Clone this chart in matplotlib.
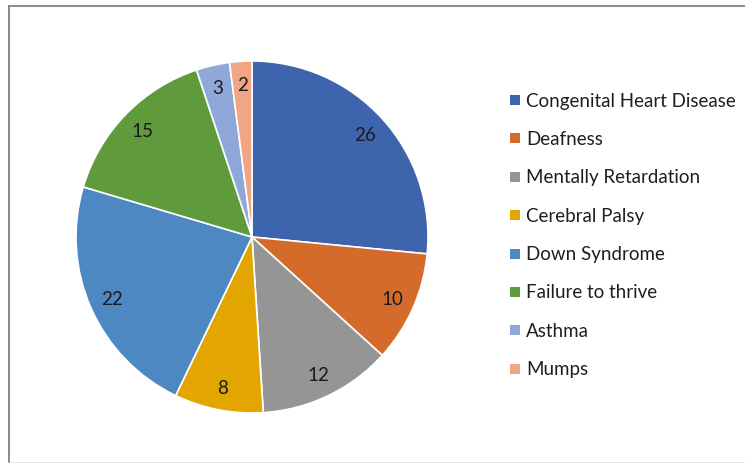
import matplotlib.pyplot as plt
from matplotlib.patches import Rectangle
from matplotlib.lines import Line2D
import numpy as np

categories = ["Congenital Heart Disease", "Deafness", "Mentally Retardation",
              "Cerebral Palsy", "Down Syndrome", "Failure to thrive",
              "Asthma", "Mumps"]
values = [26, 10, 12, 8, 22, 15, 3, 2]
colors = ["#3E64AD", "#D46B2A", "#959595", "#E3A600",
          "#4D88C2", "#5F9A3D", "#8FA7D9", "#F0A585"]

plt.rcParams['font.family'] = ['Lato', 'DejaVu Sans']

fig = plt.figure(figsize=(7.45, 4.64), dpi=100)
W, H = 745, 464

# chart area frame: left and top edges visible, bottom very faint
fig.add_artist(Line2D([8.5 / W, 8.5 / W], [0, (H - 6.5) / H],
                      transform=fig.transFigure, color="#808080", lw=1.3))
fig.add_artist(Line2D([8.5 / W, 1], [(H - 6.5) / H, (H - 6.5) / H],
                      transform=fig.transFigure, color="#808080", lw=1.3))
fig.add_artist(Line2D([8.5 / W, 1], [1 / H, 1 / H],
                      transform=fig.transFigure, color="#e6e6e6", lw=0.8))

ax = fig.add_axes([76 / W, 50 / H, 352 / W, 352 / H])
wedges, _ = ax.pie(values, colors=colors, startangle=90, counterclock=False,
                   radius=1.0, wedgeprops=dict(edgecolor="white", linewidth=1.2))
ax.set_xlim(-1, 1)
ax.set_ylim(-1, 1)
ax.set_aspect('equal')
ax.axis('off')

# value labels inside the slices
for w, v in zip(wedges, values):
    ang = np.radians((w.theta1 + w.theta2) / 2)
    r = 0.87
    ax.text(r * np.cos(ang), r * np.sin(ang), str(v), ha='center', va='center',
            fontsize=13.5, color="#1a1a1a")

# legend drawn by hand
y0, dy = 101, 38.4
for i, (c, lab) in enumerate(zip(colors, categories)):
    yc = y0 + i * dy
    fig.add_artist(Rectangle((510 / W, (H - yc - 5) / H), 10 / W, 10 / H,
                             transform=fig.transFigure, facecolor=c,
                             edgecolor='none'))
    fig.text(526 / W, (H - yc) / H, lab, ha='left', va='center',
             fontsize=13.5, color="#1f1f1f")

fig.savefig("out.png", dpi=100)
